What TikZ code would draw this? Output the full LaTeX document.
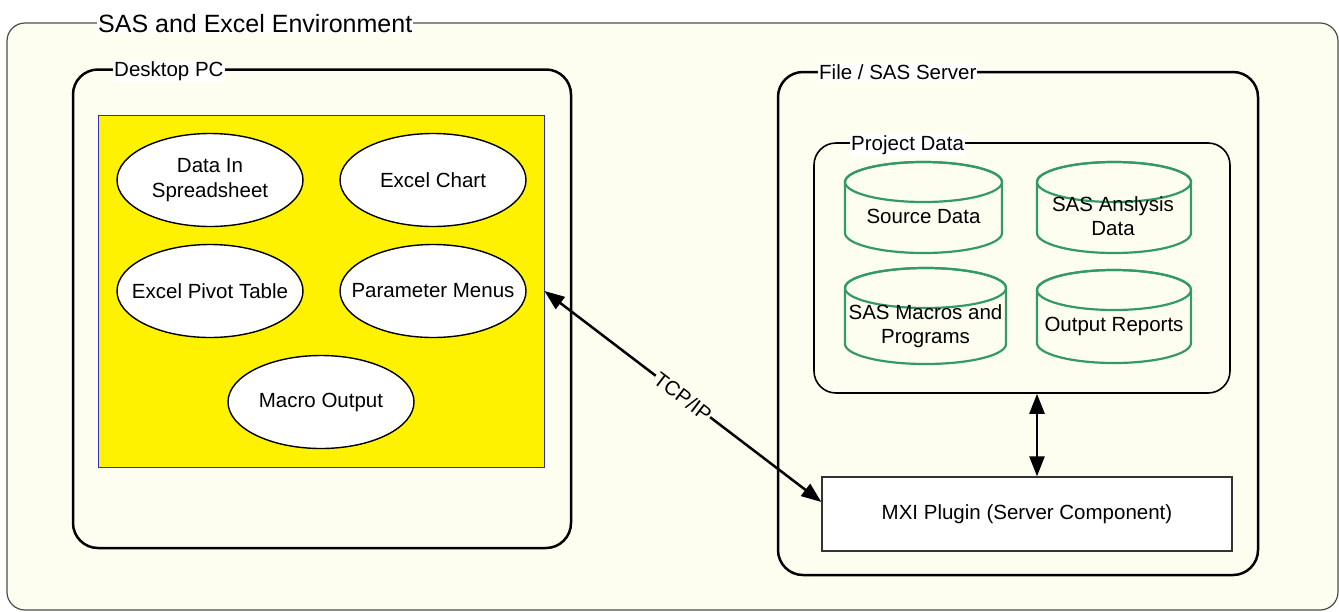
\documentclass[tikz,border=0pt]{standalone}
\usepackage{fontspec}
\setmainfont{Liberation Sans}
\usetikzlibrary{shapes.geometric,arrows.meta,fit,calc}
\definecolor{cream}{HTML}{FEFEF0}
\definecolor{cylgreen}{HTML}{339966}
\definecolor{rectblue}{HTML}{3030C0}
\newcommand{\drawcyl}[4]{%
  \pgfmathsetmacro\cylcx{(#1+#3)/2}%
  \pgfmathsetmacro\cylrx{(#3-#1)/2}%
  \draw[cylline] (#1,#2+20) -- (#1,#4-20)
    arc[start angle=180,end angle=0,x radius=\cylrx,y radius=20]
    -- (#3,#2+20)
    arc[start angle=0,end angle=-180,x radius=\cylrx,y radius=20] -- cycle;
  \draw[cylline] (\cylcx,#2+20) ellipse[x radius=\cylrx,y radius=20];
}
\begin{document}
\begin{tikzpicture}[x=1pt,y=-1pt,
  txt/.style={font=\fontsize{20.5}{24.5}\selectfont, align=center, inner sep=0pt},
  frame/.style={draw=black, line width=2.5pt, rounded corners=25pt, inner sep=0pt},
  titlelbl/.style={anchor=base west, fill=white, inner sep=1pt, font=\fontsize{20.5}{24}\selectfont},
  oval/.style={ellipse, draw=black, line width=1.4pt, fill=white, minimum width=186pt, minimum height=93pt, inner sep=0pt},
  cylline/.style={draw=cylgreen, line width=2.2pt},
  dblarrow/.style={line width=2.5pt, {Triangle[length=20pt,width=15pt]}-{Triangle[length=20pt,width=15pt]}},
  tcplbl/.style={fill=cream, inner sep=1pt, font=\fontsize{20.5}{24}\selectfont}
]
\useasboundingbox (0,0) rectangle (1339,611);
\fill[white] (0,0) rectangle (1339,611);

% outer environment
\node[fit={(7,23) (1338,610)}, inner sep=0pt, draw=black!70, line width=1.2pt, fill=cream, rounded corners=18pt] (env) {};
\node[titlelbl, font=\fontsize{25}{30}\selectfont] (envt) at (97,32) {SAS and Excel Environment};

% Desktop PC
\node[frame, fit={(73,69.5) (571,548)}] (desk) {};
\node[titlelbl] (deskt) at (113,76.8) {Desktop PC};
\node[fit={(98.5,115) (544,467)}, inner sep=0pt, draw=rectblue, line width=1pt, fill=yellow] (yel) {};

\node[oval] (e1) at (210,180) {};
\node[txt] (e1t) at (e1) {Data In\\Spreadsheet};
\node[oval] (e2) at (433,180) {};
\node[txt] (e2t) at (e2) {Excel Chart};
\node[oval] (e3) at (210,291) {};
\node[txt] (e3t) at (e3) {Excel Pivot Table};
\node[oval] (e4) at (433,291) {};
\node[txt] (e4t) at (e4) {Parameter Menus};
\node[oval] (e5) at (321,402) {};
\node[txt] (e5t) at (e5) {Macro Output};

% Server
\node[frame, fit={(778,72) (1258,575)}] (srv) {};
\node[titlelbl] (srvt) at (818,79.3) {File / SAS Server};
\node[fit={(814,143) (1230,393)}, inner sep=0pt, draw=black, line width=1.6pt, rounded corners=22pt] (pd) {};
\node[titlelbl] (pdt) at (850,150.3) {Project Data};

\drawcyl{845}{162}{1002}{253}
\drawcyl{1037}{162}{1191}{253}
\drawcyl{845}{268}{1006}{364}
\drawcyl{1037}{270}{1191}{363}
\node[txt] (c1) at (923.5,216) {Source Data};
\node[txt] (c2) at (1113,216) {SAS Anslysis\\Data};
\node[txt] (c3) at (925.5,326) {SAS Macros and\\Programs};
\node[txt] (c4) at (1114,326) {Output Reports};

\node[fit={(822,477) (1232,551)}, inner sep=0pt, draw=black!80, line width=1.3pt, fill=white] (mxi) {};
\node[txt] (mxit) at (mxi) {MXI Plugin (Server Component)};

% connectors
\draw[dblarrow] (yel.east) -- node[tcplbl, sloped] (tcp) {TCP/IP} ($(mxi.north west)!0.34!(mxi.south west)$);
\coordinate (vx) at (1037,0);
\draw[dblarrow] (pd.south -| vx) -- (mxi.north -| vx);
\end{tikzpicture}
\end{document}
